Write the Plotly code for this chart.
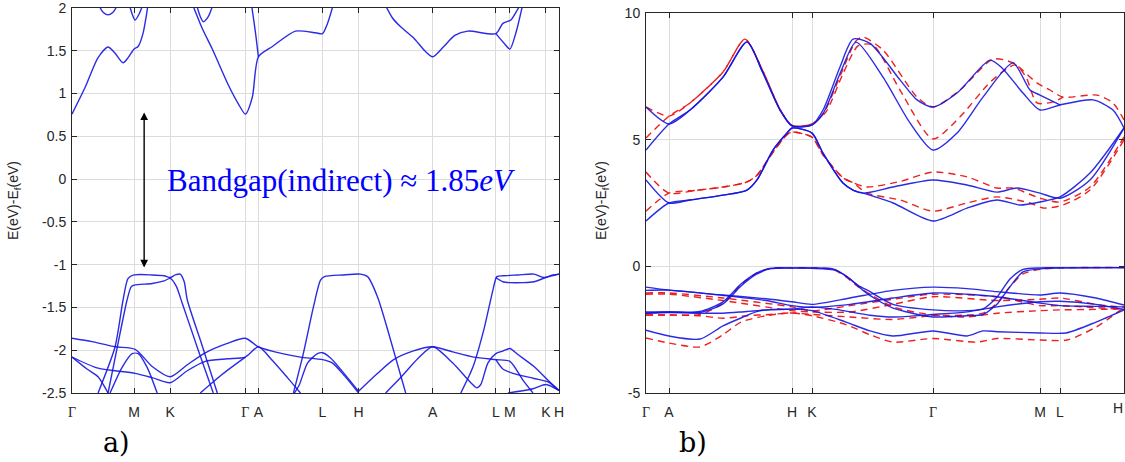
import plotly.graph_objects as go

# ---------- panel a: high-symmetry path and bands (k in path units, E in eV) ----------
a_tick_k = [0, 0.62, 0.98, 1.73, 1.86, 2.50, 2.86, 3.60, 4.23, 4.37, 4.73, 4.86]
a_tick_labels = ["Γ", "M", "K", "Γ", "A", "L", "H", "A", "L", "M", "K", "H"]

a_conduction = [
    [(0, 0.76), (0.13, 1.07), (0.26, 1.42), (0.36, 1.545), (0.43, 1.47), (0.51, 1.36), (0.56, 1.42),
     (0.62, 1.52), (0.66, 1.55), (0.71, 1.71), (0.76, 2.05)],
    [(0.26, 2.05), (0.31, 1.95), (0.36, 1.92), (0.41, 1.95), (0.46, 2.05)],
    [(0.57, 2.05), (0.60, 1.93), (0.63, 1.86), (0.67, 1.93), (0.71, 2.05)],
    [(1.20, 2.05), (1.30, 1.76), (1.40, 1.52), (1.56, 1.10), (1.66, 0.88), (1.73, 0.76), (1.80, 0.96),
     (1.86, 1.43), (2.00, 1.55), (2.23, 1.73), (2.43, 1.71), (2.50, 1.70), (2.55, 1.82), (2.61, 2.05)],
    [(1.79, 2.05), (1.83, 1.72), (1.86, 1.43)],
    [(1.24, 2.05), (1.28, 1.90), (1.31, 1.84), (1.36, 1.90), (1.41, 2.05)],
    [(3.12, 2.05), (3.20, 1.88), (3.28, 1.78), (3.41, 1.65), (3.52, 1.50), (3.60, 1.43), (3.71, 1.55),
     (3.82, 1.68), (3.95, 1.73), (4.23, 1.70), (4.30, 1.82), (4.38, 1.86), (4.43, 1.95), (4.48, 2.05)],
    [(4.23, 1.70), (4.31, 1.59), (4.37, 1.52), (4.43, 1.71), (4.50, 2.05)],
]

a_valence = [
    [(0.26, -2.5), (0.43, -1.96), (0.51, -1.41), (0.56, -1.16), (0.62, -1.12), (0.80, -1.12), (0.92, -1.13),
     (0.98, -1.15), (1.03, -1.12), (1.08, -1.11), (1.12, -1.20), (1.15, -1.41), (1.30, -1.95), (1.45, -2.5)],
    [(0.36, -2.5), (0.48, -1.80), (0.55, -1.41), (0.59, -1.26), (0.62, -1.24), (0.80, -1.22), (0.92, -1.19),
     (0.98, -1.16), (1.04, -1.25), (1.10, -1.45), (1.26, -2.0), (1.41, -2.5)],
    [(2.21, -2.5), (2.31, -2.03), (2.41, -1.49), (2.48, -1.18), (2.52, -1.14), (2.70, -1.12), (2.88, -1.11),
     (2.95, -1.14), (3.05, -1.38), (3.15, -1.76), (3.33, -2.5)],
    [(3.88, -2.5), (4.00, -2.2), (4.11, -1.76), (4.20, -1.30), (4.24, -1.14), (4.30, -1.13), (4.45, -1.12),
     (4.61, -1.11), (4.71, -1.15), (4.80, -1.12), (4.86, -1.11)],
    [(4.23, -1.15), (4.30, -1.20), (4.37, -1.21), (4.50, -1.21), (4.61, -1.20), (4.73, -1.15), (4.86, -1.11)],
    [(0, -1.86), (0.20, -1.90), (0.43, -1.96), (0.63, -1.99), (0.80, -2.19), (0.98, -2.31), (1.15, -2.17),
     (1.33, -2.03), (1.55, -1.92), (1.73, -1.86), (1.86, -1.96), (2.10, -2.04), (2.28, -2.08), (2.50, -2.11),
     (2.60, -2.15), (2.72, -2.30), (2.86, -2.5)],
    [(0, -2.08), (0.26, -2.21), (0.63, -2.27), (0.80, -2.32), (0.98, -2.38), (1.15, -2.24), (1.33, -2.13),
     (1.55, -2.10), (1.73, -2.08), (1.86, -1.96), (2.00, -2.12), (2.15, -2.32), (2.28, -2.5)],
    [(2.22, -2.5), (2.27, -2.40), (2.35, -2.15), (2.45, -2.04), (2.50, -2.03), (2.58, -2.09), (2.70, -2.25),
     (2.86, -2.48)],
    [(2.86, -2.48), (3.05, -2.27), (3.21, -2.11), (3.40, -2.01), (3.60, -1.96), (3.80, -2.02), (4.01, -2.08),
     (4.23, -2.11), (4.37, -2.13), (4.50, -2.35), (4.60, -2.5)],
    [(3.13, -2.5), (3.28, -2.32), (3.45, -2.10), (3.60, -1.96), (3.80, -2.15), (3.98, -2.38), (4.04, -2.44),
     (4.08, -2.40), (4.15, -2.15), (4.23, -2.04), (4.30, -2.01), (4.37, -1.98), (4.45, -2.05), (4.61, -2.19),
     (4.75, -2.35), (4.86, -2.47)],
    [(4.23, -2.11), (4.30, -2.22), (4.40, -2.27), (4.61, -2.33), (4.75, -2.37), (4.86, -2.47)],
    [(4.35, -2.5), (4.60, -2.45), (4.73, -2.40), (4.86, -2.47)],
    [(0, -2.08), (0.15, -2.22), (0.26, -2.31), (0.36, -2.5)],
    [(0.38, -2.5), (0.50, -2.2), (0.60, -2.04), (0.66, -2.04), (0.75, -2.2), (0.85, -2.5)],
    [(1.28, -2.5), (1.50, -2.28), (1.73, -2.08)],
]

# ---------- panel b: two calculations, blue solid and red dashed ----------
b_tick_k = [0, 0.23, 1.46, 1.66, 2.87, 3.94, 4.14, 4.78]
b_tick_labels = ["Γ", "A", "H", "K", "Γ", "M", "L", "H"]

b_blue_conduction = [
    [(0, 6.29), (0.23, 5.62), (0.44, 6.17), (0.77, 7.47), (1.01, 8.86), (1.17, 7.63), (1.34, 6.17), (1.46, 5.54),
     (1.66, 5.58), (1.77, 6.17), (1.94, 7.87), (2.07, 8.97), (2.24, 8.80), (2.54, 7.36), (2.71, 6.57), (2.87, 6.29),
     (3.11, 6.84), (3.44, 8.14), (3.56, 7.83), (3.77, 6.84), (3.94, 6.17), (4.14, 6.37), (4.47, 6.57), (4.67, 6.17),
     (4.78, 5.46)],
    [(0, 4.59), (0.23, 5.62), (0.44, 6.17), (0.77, 7.47), (1.01, 8.86), (1.17, 7.63), (1.34, 6.17), (1.46, 5.54),
     (1.66, 5.58), (1.78, 6.10), (1.95, 7.70), (2.10, 8.85), (2.37, 7.47), (2.64, 5.66), (2.87, 4.59), (3.11, 5.26),
     (3.37, 6.68), (3.67, 8.03), (3.84, 6.96), (3.94, 6.76), (4.14, 6.37)],
    [(0, 3.41), (0.23, 2.50), (0.44, 2.62), (0.77, 2.81), (1.01, 3.01), (1.11, 3.41), (1.27, 4.59), (1.41, 5.26),
     (1.46, 5.46), (1.66, 5.26), (1.77, 4.47), (1.97, 3.29), (2.07, 3.01), (2.17, 2.89), (2.47, 3.13), (2.87, 3.41),
     (3.21, 3.21), (3.51, 2.93), (3.71, 3.09), (3.94, 2.89), (4.14, 2.69), (4.44, 3.41), (4.78, 5.46)],
    [(0, 1.79), (0.23, 2.50), (0.44, 2.62), (0.77, 2.81), (1.01, 3.01), (1.11, 3.41), (1.27, 4.59), (1.41, 5.26),
     (1.46, 5.46), (1.66, 5.26), (1.77, 4.47), (1.97, 3.29), (2.07, 3.01), (2.17, 2.89), (2.47, 2.50), (2.87, 1.79),
     (3.21, 2.30), (3.51, 2.62), (3.74, 2.42), (3.94, 2.54), (4.14, 2.74), (4.44, 3.68), (4.78, 5.46)],
]

b_red_conduction = [
    [(0, 6.29), (0.23, 5.93), (0.44, 6.45), (0.77, 7.67), (0.99, 8.97), (1.17, 7.70), (1.34, 6.20), (1.46, 5.56),
     (1.66, 5.62), (1.77, 6.00), (1.94, 7.50), (2.10, 8.90), (2.17, 9.05), (2.37, 8.54), (2.71, 6.68), (2.87, 6.29),
     (3.14, 6.96), (3.47, 8.18), (3.67, 8.03), (3.91, 7.24), (4.04, 6.96), (4.17, 6.68), (4.51, 6.76), (4.67, 6.45),
     (4.78, 5.78)],
    [(0, 5.07), (0.23, 5.93), (0.44, 6.45), (0.77, 7.67), (0.99, 8.97), (1.17, 7.70), (1.34, 6.20), (1.46, 5.56),
     (1.66, 5.62), (1.80, 6.10), (1.97, 7.60), (2.12, 8.70), (2.27, 8.74), (2.54, 6.96), (2.87, 5.03), (3.14, 5.90),
     (3.45, 7.30), (3.69, 7.95), (3.80, 7.47), (3.91, 6.45), (4.07, 6.49), (4.17, 6.68)],
    [(0, 3.72), (0.23, 2.89), (0.50, 3.00), (0.77, 3.13), (1.01, 3.33), (1.11, 3.60), (1.27, 4.50), (1.41, 5.20),
     (1.46, 5.30), (1.66, 5.10), (1.77, 4.40), (1.97, 3.50), (2.07, 3.30), (2.21, 3.13), (2.54, 3.35), (2.87, 3.72),
     (3.21, 3.53), (3.51, 3.09), (3.67, 3.09), (3.94, 2.69), (4.14, 2.54), (4.44, 3.13), (4.78, 5.11)],
    [(0, 2.18), (0.23, 2.89), (0.50, 3.00), (0.77, 3.13), (1.01, 3.33), (1.11, 3.60), (1.27, 4.50), (1.41, 5.20),
     (1.46, 5.30), (1.66, 5.10), (1.77, 4.40), (1.97, 3.50), (2.07, 3.30), (2.21, 2.89), (2.54, 2.62), (2.87, 2.18),
     (3.21, 2.50), (3.51, 2.74), (3.84, 2.50), (3.97, 2.30), (4.17, 2.42), (4.44, 3.01), (4.78, 4.99)],
]

b_blue_valence = [
    [(0, -1.80), (0.23, -1.80), (0.54, -1.78), (0.77, -1.40), (0.95, -0.70), (1.10, -0.28), (1.24, -0.08),
     (1.46, -0.06), (1.66, -0.06), (1.87, -0.10), (2.00, -0.38), (2.12, -0.75), (2.24, -1.00), (2.47, -1.50),
     (2.87, -1.72), (3.21, -1.75), (3.37, -1.68), (3.51, -1.21), (3.64, -0.50), (3.77, -0.12), (3.94, -0.06),
     (4.14, -0.06), (4.78, -0.05)],
    [(0, -1.85), (0.23, -1.80), (0.54, -1.82), (0.77, -1.48), (0.95, -0.78), (1.10, -0.32), (1.24, -0.10),
     (1.46, -0.07), (1.66, -0.08), (1.90, -0.16), (2.04, -0.50), (2.17, -0.95), (2.30, -1.30), (2.47, -1.65),
     (2.87, -2.00), (3.21, -1.95), (3.37, -1.90), (3.51, -1.50), (3.64, -0.80), (3.77, -0.22), (3.94, -0.10),
     (4.14, -0.06), (4.78, -0.05)],
    [(0, -0.82), (0.23, -0.94), (0.77, -1.13), (1.20, -1.28), (1.46, -1.40), (1.66, -1.50), (2.04, -1.25),
     (2.47, -0.95), (2.87, -0.82), (3.21, -0.88), (3.51, -1.00), (3.94, -1.13), (4.14, -1.05), (4.50, -1.25),
     (4.78, -1.53)],
    [(0, -0.95), (0.23, -0.94), (0.77, -1.15), (1.20, -1.35), (1.46, -1.55), (1.66, -1.62), (2.04, -1.50),
     (2.47, -1.25), (2.87, -1.05), (3.21, -1.10), (3.51, -1.20), (3.94, -1.45), (4.14, -1.55), (4.50, -1.58),
     (4.78, -1.60)],
    [(0, -1.85), (0.23, -1.82), (0.54, -1.85), (0.77, -1.85), (1.01, -1.78), (1.24, -1.72), (1.46, -1.69),
     (1.66, -1.60), (1.90, -1.70), (2.24, -1.93), (2.47, -2.00), (2.87, -1.90), (3.21, -1.80), (3.51, -1.60),
     (3.94, -1.40), (4.14, -1.38), (4.50, -1.50), (4.78, -1.70)],
    [(0, -2.52), (0.23, -2.75), (0.54, -2.87), (0.77, -2.35), (0.95, -2.04), (1.14, -1.75), (1.46, -1.69),
     (1.66, -1.75), (2.00, -2.20), (2.24, -2.55), (2.47, -2.75), (2.87, -2.55), (3.21, -2.75), (3.37, -2.55),
     (3.51, -2.58), (3.94, -2.63), (4.20, -2.63), (4.50, -2.20), (4.78, -1.72)],
]

b_red_valence = [
    [(0, -1.92), (0.23, -1.92), (0.54, -1.90), (0.77, -1.45), (0.95, -0.72), (1.10, -0.28), (1.24, -0.08),
     (1.46, -0.06), (1.66, -0.06), (1.87, -0.12), (2.00, -0.42), (2.12, -0.80), (2.24, -1.10), (2.47, -1.60),
     (2.87, -1.92), (3.21, -1.92), (3.37, -1.85), (3.51, -1.45), (3.64, -0.80), (3.77, -0.30), (3.94, -0.12),
     (4.14, -0.06), (4.78, -0.05)],
    [(0, -1.05), (0.23, -1.05), (0.77, -1.25), (1.46, -1.60), (1.66, -1.75), (2.04, -1.55), (2.47, -1.30),
     (2.87, -1.10), (3.51, -1.20), (3.94, -1.55), (4.14, -1.55), (4.78, -1.70)],
    [(0, -1.10), (0.23, -1.10), (0.77, -1.35), (1.46, -1.75), (1.66, -1.80), (2.04, -1.80), (2.47, -1.50),
     (2.87, -1.20), (3.51, -1.35), (3.94, -1.30), (4.14, -1.25), (4.50, -1.50), (4.78, -1.62)],
    [(0, -1.92), (0.23, -1.92), (0.54, -1.95), (0.77, -2.05), (1.01, -1.95), (1.24, -1.90), (1.46, -1.84),
     (1.66, -1.90), (2.04, -2.00), (2.47, -2.10), (2.87, -1.95), (3.21, -2.00), (3.51, -1.85), (3.94, -1.75),
     (4.14, -1.72), (4.50, -1.70), (4.78, -1.68)],
    [(0, -2.83), (0.23, -3.03), (0.54, -3.18), (0.77, -2.70), (0.95, -2.20), (1.20, -1.95), (1.46, -1.84),
     (1.66, -1.95), (2.00, -2.30), (2.24, -2.70), (2.47, -2.99), (2.87, -2.85), (3.31, -2.99), (3.51, -2.85),
     (3.94, -2.91), (4.21, -2.91), (4.50, -2.40), (4.78, -1.62)],
]

BLUE = "rgba(20,20,225,0.9)"
RED = "rgba(235,20,20,0.95)"
AXIS = "#262626"
GRID = "#dcdcdc"
SANS = "Liberation Sans, Arial, sans-serif"
SERIF = "Liberation Serif, Times New Roman, serif"

fig = go.Figure()


def add_bands(bands, xa, ya, color, dash="solid"):
    for band in bands:
        ks = [p[0] for p in band]
        es = [p[1] for p in band]
        fig.add_trace(go.Scatter(
            x=ks, y=es, mode="lines", xaxis=xa, yaxis=ya, showlegend=False, hoverinfo="skip",
            line=dict(color=color, width=1.4, dash=dash, shape="spline", smoothing=0.7),
        ))


add_bands(a_conduction + a_valence, "x", "y", BLUE)
add_bands(b_red_conduction + b_red_valence, "x2", "y2", RED, dash="7px,5px")
add_bands(b_blue_conduction + b_blue_valence, "x2", "y2", BLUE)


def tick_text(labels):
    return [f'<span style="font-family:{SERIF}">Γ</span>' if t == "Γ" else t for t in labels]


axis_common = dict(
    showline=True, linecolor=AXIS, linewidth=1, mirror="ticks", ticks="inside", ticklen=5,
    tickcolor=AXIS, showgrid=True, gridcolor=GRID, gridwidth=1, zeroline=False, automargin=False,
    ticklabeloverflow="allow", tickfont=dict(family=SANS, size=14, color=AXIS),
)

# the last label of panel b sits on the right page edge; it is drawn right-aligned below
b_text = tick_text(b_tick_labels)
b_last_label = b_text[-1]
b_text[-1] = ""

W, H = 1125, 462
fig.update_layout(
    width=W, height=H, margin=dict(l=0, r=0, t=0, b=0, pad=0, autoexpand=False),
    paper_bgcolor="white", plot_bgcolor="white", showlegend=False,
    xaxis=dict(domain=[72 / W, 559 / W], range=[0, a_tick_k[-1]], tickmode="array",
               tickvals=a_tick_k, ticktext=tick_text(a_tick_labels), anchor="y",
               ticklabelstandoff=6, **axis_common),
    yaxis=dict(domain=[1 - 393 / H, 1 - 8 / H], range=[-2.5, 2], tickmode="array",
               tickvals=[-2.5, -2, -1.5, -1, -0.5, 0, 0.5, 1, 1.5, 2],
               ticktext=["-2.5", "-2", "-1.5", "-1", "-0.5", "0", "0.5", "1", "1.5", "2"],
               anchor="x", ticklabelstandoff=2, **axis_common),
    xaxis2=dict(domain=[646 / W, 1124 / W], range=[0, b_tick_k[-1]], tickmode="array",
                tickvals=b_tick_k, ticktext=b_text, anchor="y2",
                ticklabelstandoff=6, **axis_common),
    yaxis2=dict(domain=[1 - 393 / H, 1 - 13 / H], range=[-5, 10], tickmode="array",
                tickvals=[-5, 0, 5, 10], ticktext=["-5", "0", "5", "10"], anchor="x2",
                ticklabelstandoff=2, **axis_common),
)

fig.add_annotation(text=b_last_label, xref="paper", yref="paper", x=1, y=1 - 408 / H,
                   xanchor="right", yanchor="middle", showarrow=False,
                   font=dict(family=SANS, size=14, color=AXIS))

ytitle = "E(eV)-E<sub>f</sub>(eV)"
for xpix in (14, 602):
    fig.add_annotation(text=ytitle, xref="paper", yref="paper", x=xpix / W, y=1 - 201 / H, textangle=-90,
                       xanchor="center", yanchor="middle", showarrow=False,
                       font=dict(family=SANS, size=14, color=AXIS))

# indirect gap arrow between band edges
fig.add_annotation(x=0.72, y=0.78, ax=0.72, ay=-1.05, xref="x", yref="y", axref="x", ayref="y",
                   text="", showarrow=True, arrowhead=2, startarrowhead=2, arrowside="end+start",
                   arrowsize=1.1, arrowwidth=1.4, arrowcolor="black")
fig.add_annotation(text="Bandgap(indirect) ≈ 1.85<i>eV</i>", x=0.93, y=-0.02, xref="x", yref="y",
                   xanchor="left", yanchor="middle", showarrow=False,
                   font=dict(family=SERIF, size=31, color="#0000ff"))

for label, xpix in (("a)", 116), ("b)", 693)):
    fig.add_annotation(text=label, xref="paper", yref="paper", x=xpix / W, y=1 - 442 / H,
                       xanchor="center", yanchor="middle", showarrow=False,
                       font=dict(family="DejaVu Serif", size=27, color="black"))

fig.write_html("out.html")
